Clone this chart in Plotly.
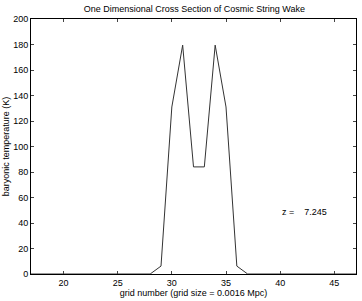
import plotly.graph_objects as go

grid = list(range(17, 48))
temps = [0]*11 + [0, 6.2, 131, 179.5, 84, 84, 179.5, 131, 6.2, 0] + [0]*10
# grid 17..27 zeros, 28..37 profile, 38..47 zeros

xticks = [20, 25, 30, 35, 40, 45]
yticks = list(range(0, 201, 20))

fig = go.Figure()
fig.add_trace(go.Scatter(x=grid, y=temps, mode="lines",
                         line=dict(color="#333333", width=1), showlegend=False))

font = dict(family="Liberation Sans, Arial, sans-serif", size=9, color="black")
fig.update_layout(
    width=362, height=301,
    margin=dict(l=29, r=5, t=19, b=24),
    paper_bgcolor="white", plot_bgcolor="white",
    font=font,
    title=dict(text="One Dimensional Cross Section of Cosmic String Wake",
               x=0.537, xanchor="center", y=0.97, yanchor="middle", font=dict(size=9)),
    xaxis=dict(range=[17, 47], tickvals=xticks, ticks="inside", ticklen=3,
               showline=True, linecolor="black", linewidth=1, mirror="ticks",
               showgrid=False, zeroline=False,
               title=dict(text="grid number (grid size = 0.0016 Mpc)", standoff=2, font=dict(size=9))),
    yaxis=dict(range=[0, 200], tickvals=yticks, ticks="inside", ticklen=3,
               showline=True, linecolor="black", linewidth=1, mirror="ticks",
               showgrid=False, zeroline=False,
               title=dict(text="baryonic temperature (K)", standoff=2, font=dict(size=9))),
)
fig.add_annotation(x=40, y=49, text="z =    7.245", showarrow=False,
                   xanchor="left", yanchor="middle", font=dict(size=9))
fig.write_html("out.html", config={"displayModeBar": False},
               post_script="document.body.style.margin='0';document.body.style.overflow='hidden';")
